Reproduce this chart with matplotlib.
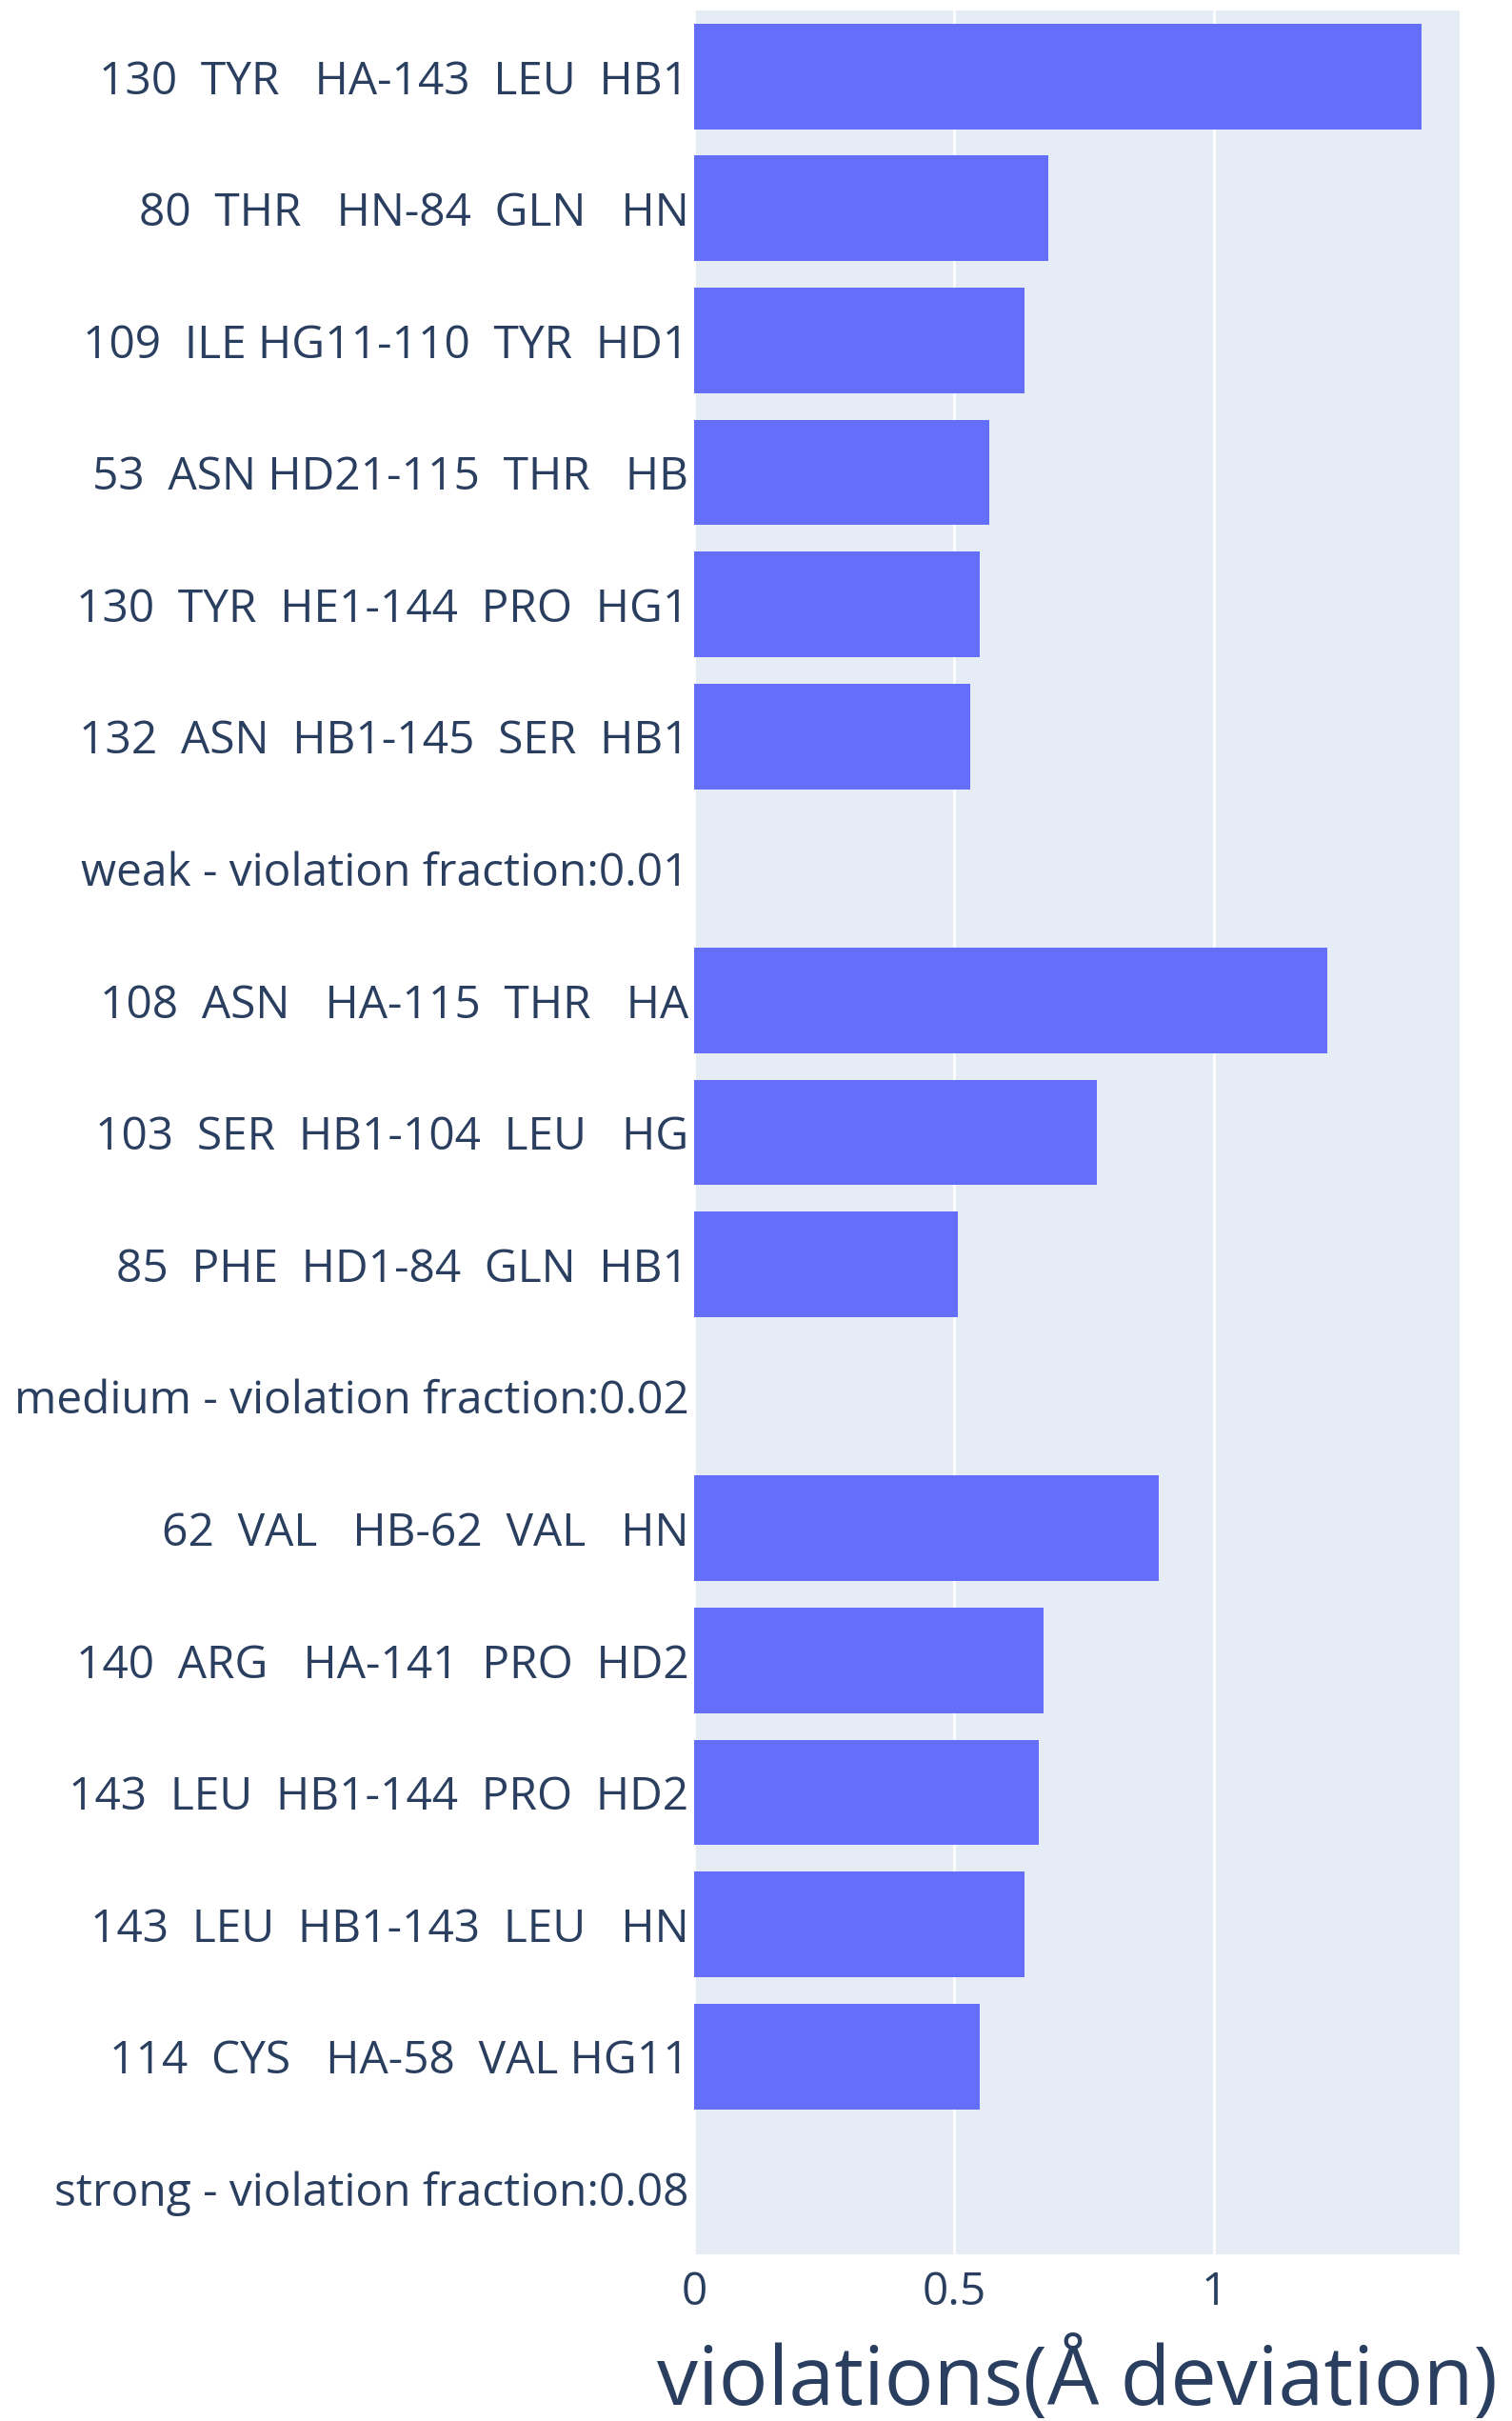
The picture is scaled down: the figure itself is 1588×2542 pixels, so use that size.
import matplotlib
matplotlib.use("Agg")
import matplotlib.pyplot as plt
from matplotlib.ticker import FuncFormatter

labels = [
    "130  TYR   HA-143  LEU  HB1",
    "80  THR   HN-84  GLN   HN",
    "109  ILE HG11-110  TYR  HD1",
    "53  ASN HD21-115  THR   HB",
    "130  TYR  HE1-144  PRO  HG1",
    "132  ASN  HB1-145  SER  HB1",
    "weak - violation fraction:0.01",
    "108  ASN   HA-115  THR   HA",
    "103  SER  HB1-104  LEU   HG",
    "85  PHE  HD1-84  GLN  HB1",
    "medium - violation fraction:0.02",
    "62  VAL   HB-62  VAL   HN",
    "140  ARG   HA-141  PRO  HD2",
    "143  LEU  HB1-144  PRO  HD2",
    "143  LEU  HB1-143  LEU   HN",
    "114  CYS   HA-58  VAL HG11",
    "strong - violation fraction:0.08",
]
values = [1.398, 0.680, 0.635, 0.567, 0.549, 0.531, 0.0,
          1.217, 0.774, 0.507, 0.0,
          0.893, 0.671, 0.662, 0.635, 0.549, 0.0]
xticks = [0, 0.5, 1]
xlabel = "violations(Å deviation)"

plt.rcParams['font.family'] = ['Open Sans', 'DejaVu Sans']
txt = "#2a3f5f"

W, H = 1588, 2542
fig = plt.figure(figsize=(W / 100, H / 100), dpi=100)
ax = fig.add_axes([729 / W, 1 - 2367 / H, (1533 - 729) / W, (2367 - 11) / H])
ax.set_facecolor("#E5ECF6")

n = len(labels)
ypos = list(range(n - 1, -1, -1))
ax.barh(ypos, values, height=0.8, color="#636efa", zorder=3)
ax.set_ylim(-0.5, n - 0.5)
ax.set_xlim(0, max(values) * 1.0526)
ax.set_yticks(ypos)
ax.set_yticklabels(labels, fontsize=34.5, color=txt)
ax.set_xticks(xticks)
ax.xaxis.set_major_formatter(FuncFormatter(lambda v, p: f"{v:g}"))
ax.tick_params(axis='x', labelsize=34.5, colors=txt, length=0, pad=12)
ax.tick_params(axis='y', length=0, pad=4)
ax.grid(axis='x', color='white', linewidth=2, zorder=1)
ax.grid(axis='y', visible=False)
for s in ax.spines.values():
    s.set_visible(False)
ax.set_xlabel(xlabel, fontsize=62, color=txt, labelpad=18)

fig.savefig("out.png", dpi=100, facecolor="white")
